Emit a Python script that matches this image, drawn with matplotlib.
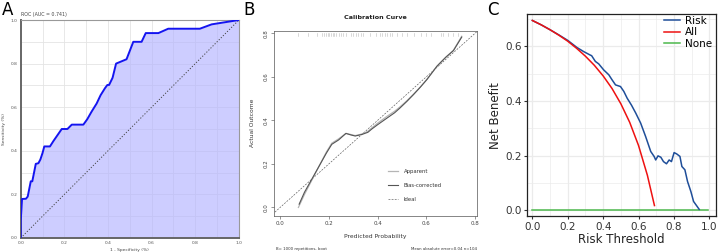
import matplotlib
matplotlib.use("Agg")
import matplotlib.pyplot as plt
import numpy as np

# ---------------- Panel A: ROC ----------------
roc_fpr = [0.0, 0.0, 0.006, 0.024, 0.032, 0.046, 0.053, 0.069, 0.081, 0.09, 0.10, 0.108, 0.134,
           0.15, 0.188, 0.214, 0.234, 0.287, 0.305, 0.325, 0.348, 0.366, 0.386, 0.397, 0.405,
           0.421, 0.437, 0.485, 0.516, 0.554, 0.573, 0.631, 0.676, 0.821, 0.875, 1.0]
roc_tpr = [0.0, 0.08, 0.179, 0.18, 0.19, 0.26, 0.26, 0.34, 0.343, 0.36, 0.39, 0.42, 0.42,
           0.445, 0.50, 0.50, 0.52, 0.52, 0.545, 0.58, 0.617, 0.655, 0.687, 0.702, 0.702,
           0.735, 0.80, 0.82, 0.90, 0.90, 0.94, 0.94, 0.96, 0.96, 0.98, 1.0]
roc_title = "ROC (AUC = 0.741)"
roc_ticks = [0.0, 0.2, 0.4, 0.6, 0.8, 1.0]

# ---------------- Panel B: Calibration ----------------
cal_bias_x = [0.078, 0.10, 0.13, 0.16, 0.19, 0.212, 0.24, 0.27, 0.29, 0.308, 0.335, 0.36,
              0.376, 0.40, 0.438, 0.47, 0.492, 0.52, 0.547, 0.575, 0.602, 0.643, 0.656, 0.68,
              0.711, 0.745]
cal_bias_y = [0.015, 0.07, 0.13, 0.19, 0.25, 0.29, 0.31, 0.34, 0.333, 0.328, 0.335, 0.345,
              0.36, 0.38, 0.41, 0.435, 0.457, 0.487, 0.518, 0.552, 0.587, 0.648, 0.663, 0.69,
              0.72, 0.782]
cal_app_x = [0.075, 0.10, 0.13, 0.16, 0.19, 0.212, 0.24, 0.27, 0.29, 0.308, 0.335, 0.36,
             0.376, 0.40, 0.438, 0.47, 0.492, 0.52, 0.547, 0.575, 0.602, 0.643, 0.656, 0.68,
             0.711, 0.745]
cal_app_y = [0.0, 0.06, 0.125, 0.19, 0.255, 0.295, 0.315, 0.34, 0.335, 0.33, 0.337, 0.35,
             0.365, 0.387, 0.418, 0.442, 0.462, 0.49, 0.52, 0.553, 0.588, 0.648, 0.663, 0.69,
             0.722, 0.786]
rug_x = [0.075, 0.116, 0.15, 0.17, 0.18, 0.19, 0.195, 0.2, 0.21, 0.215, 0.22, 0.23, 0.24,
         0.25, 0.26, 0.27, 0.29, 0.30, 0.31, 0.32, 0.33, 0.34, 0.37, 0.395, 0.41, 0.42, 0.43,
         0.44, 0.45, 0.46, 0.48, 0.50, 0.52, 0.55, 0.58, 0.60, 0.62, 0.66, 0.67, 0.69, 0.71, 0.73]
cal_ticks = [0.0, 0.2, 0.4, 0.6, 0.8]

# ---------------- Panel C: DCA ----------------
dca_risk_t = [0.0, 0.05, 0.10, 0.15, 0.20, 0.252, 0.29, 0.328, 0.335, 0.356, 0.375, 0.403,
              0.432, 0.45, 0.47, 0.498, 0.517, 0.536, 0.56, 0.584, 0.612, 0.64, 0.669, 0.688,
              0.697, 0.71, 0.726, 0.741, 0.758, 0.773, 0.786, 0.801, 0.816, 0.834, 0.845,
              0.862, 0.877, 0.896, 0.911, 0.943]
dca_risk_nb = [0.695, 0.679, 0.661, 0.642, 0.622, 0.596, 0.581, 0.568, 0.566, 0.545, 0.536,
               0.514, 0.496, 0.478, 0.459, 0.453, 0.435, 0.41, 0.385, 0.356, 0.319, 0.27,
               0.215, 0.197, 0.184, 0.199, 0.194, 0.178, 0.17, 0.184, 0.178, 0.211, 0.206,
               0.197, 0.16, 0.148, 0.105, 0.068, 0.032, 0.003]
dca_all_t = [0.0, 0.05, 0.10, 0.15, 0.20, 0.25, 0.30, 0.35, 0.40, 0.45, 0.50, 0.55, 0.60,
             0.65, 0.69]
dca_all_nb = [0.695, 0.679, 0.661, 0.641, 0.619, 0.593, 0.564, 0.531, 0.492, 0.446, 0.39,
              0.322, 0.237, 0.128, 0.017]
dca_none_t = [0.0, 0.99]
dca_none_nb = [0.0, 0.0]
dca_xticks = [0.0, 0.2, 0.4, 0.6, 0.8, 1.0]
dca_yticks = [0.0, 0.2, 0.4, 0.6]

fig = plt.figure(figsize=(7.2, 2.52), dpi=100)
plt.rcParams['font.family'] = ['DejaVu Sans']

# ---- A ----
axA = fig.add_axes([0.0288, 0.0556, 0.303, 0.865])
axA.set_xlim(0, 1)
axA.set_ylim(0, 1)
for v in np.arange(0.1, 1.0, 0.1):
    axA.axvline(v, color='#e4e4e4', lw=0.6, zorder=0)
    axA.axhline(v, color='#e4e4e4', lw=0.6, zorder=0)
axA.fill_between(roc_fpr, roc_tpr, 0, color='#b3b3ff', alpha=0.65, lw=0, zorder=1)
axA.plot(roc_fpr, roc_tpr, color='#1414f0', lw=1.4, zorder=3, solid_joinstyle='round')
axA.plot([0, 1], [0, 1], color='#444444', lw=0.7, ls=(0, (1.2, 1.8)), zorder=2)
axA.set_xticks(roc_ticks)
axA.set_yticks(roc_ticks)
axA.set_xticklabels([f"{t:.1f}" for t in roc_ticks])
axA.set_yticklabels([f"{t:.1f}" for t in roc_ticks])
axA.tick_params(labelsize=3.2, length=0, pad=2.5, colors='#555555')
for s in ['left', 'bottom']:
    axA.spines[s].set_color('#666666')
    axA.spines[s].set_linewidth(1.4)
for s in ['top', 'right']:
    axA.spines[s].set_color('#999999')
    axA.spines[s].set_linewidth(0.8)
axA.set_xlabel("1 - Specificity (%)", fontsize=3.2, labelpad=1.5, color='#444444')
axA.set_ylabel("Sensitivity (%)", fontsize=3.2, labelpad=3, color='#444444')
axA.text(0.0, 1.012, roc_title, transform=axA.transAxes, fontsize=3.4, color='#444444',
         va='bottom', ha='left')
fig.text(0.003, 0.995, "A", fontsize=12, va='top', ha='left')

# ---- B ----
axB = fig.add_axes([0.3806, 0.1448, 0.282, 0.732])
axB.set_xlim(-0.025, 0.808)
axB.set_ylim(-0.037, 0.81)
axB.plot([-0.05, 0.85], [-0.05, 0.85], color='#555555', lw=0.45, ls=(0, (3, 2)), label='Ideal')
axB.plot(cal_app_x, cal_app_y, color='#b5b5b5', lw=0.9, label='Apparent')
axB.plot(cal_bias_x, cal_bias_y, color='#555555', lw=0.8, label='Bias-corrected')
for xv in rug_x:
    axB.plot([xv, xv], [0.80, 0.785], color='#bbbbbb', lw=0.4)
axB.set_xticks(cal_ticks)
axB.set_yticks(cal_ticks)
axB.set_xticklabels([f"{t:.1f}" for t in cal_ticks])
axB.set_yticklabels([f"{t:.1f}" for t in cal_ticks], rotation=90, va='center')
axB.tick_params(labelsize=4, length=2, width=0.4, pad=2, colors='#444444')
for s in axB.spines.values():
    s.set_color('#555555')
    s.set_linewidth(0.5)
axB.set_xlabel("Predicted Probability", fontsize=4.3, labelpad=6, color='#333333')
axB.set_ylabel("Actual Outcome", fontsize=4.3, labelpad=6, color='#333333')
axB.set_title("Calibration Curve", fontsize=4.6, fontweight='bold', pad=9, color='#222222')
h, l = axB.get_legend_handles_labels()
order = [1, 2, 0]
axB.legend([h[i] for i in order], [l[i] for i in order], loc='lower left',
           bbox_to_anchor=(0.54, 0.05), frameon=False, fontsize=3.8, handlelength=1.9,
           labelspacing=1.7, handletextpad=1.0, labelcolor='#333333')
fig.text(0.383, 0.005, "B= 1000 repetitions, boot", fontsize=2.8, color='#333333',
         va='bottom', ha='left')
fig.text(0.662, 0.005, "Mean absolute error=0.04 n=104", fontsize=2.8, color='#333333',
         va='bottom', ha='right')
fig.text(0.3375, 0.995, "B", fontsize=12, va='top', ha='left')

# ---- C ----
axC = fig.add_axes([0.732, 0.141, 0.2625, 0.8016])
axC.set_xlim(-0.03, 1.038)
axC.set_ylim(-0.023, 0.717)
for v in np.arange(0.0, 1.05, 0.1):
    axC.axvline(v, color='#ebebeb', lw=0.5 if round(v * 10) % 2 else 0.9, zorder=0)
for v in np.arange(0.0, 0.75, 0.1):
    axC.axhline(v, color='#ebebeb', lw=0.5 if round(v * 10) % 2 else 0.9, zorder=0)
axC.plot(dca_risk_t, dca_risk_nb, color='#1f4e99', lw=1.1, label='Risk', zorder=3)
axC.plot(dca_all_t, dca_all_nb, color='#ee1111', lw=1.1, label='All', zorder=4)
axC.plot(dca_none_t, dca_none_nb, color='#4cb84c', lw=1.1, label='None', zorder=2)
axC.set_xticks(dca_xticks)
axC.set_yticks(dca_yticks)
axC.set_xticklabels([f"{t:.1f}" for t in dca_xticks])
axC.set_yticklabels([f"{t:.1f}" for t in dca_yticks])
axC.tick_params(labelsize=7.5, length=2.5, width=0.8, pad=1.5, colors='#333333',
                labelcolor='#333333')
for s in axC.spines.values():
    s.set_color('#222222')
    s.set_linewidth(0.9)
axC.set_xlabel("Risk Threshold", fontsize=8.5, labelpad=0.5, color='#222222')
axC.set_ylabel("Net Benefit", fontsize=8.5, labelpad=2, color='#222222')
axC.legend(loc='upper right', bbox_to_anchor=(1.02, 1.03), frameon=False, fontsize=7.5,
           handlelength=1.6, labelspacing=0.15, handletextpad=0.5, borderaxespad=0.3)
fig.text(0.676, 0.995, "C", fontsize=12, va='top', ha='left')

fig.savefig("out.png", dpi=100)
